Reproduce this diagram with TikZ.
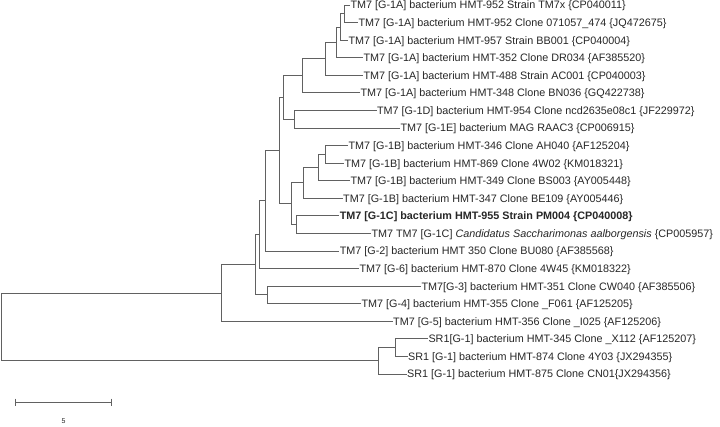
\documentclass[tikz,border=0pt]{standalone}
\usepackage{fontspec}
\setmainfont{Liberation Sans}
\begin{document}
\begin{tikzpicture}[x=1pt,y=-1pt,
  br/.style={draw=black!62, line width=0.9pt},
  leaf/.style={anchor=west, inner xsep=0.3pt, inner ysep=0pt, text height=7.8pt, text depth=0pt, font=\fontsize{10.8}{12}\selectfont, text=black!85}]
\useasboundingbox (0,0) rectangle (720,426);
% leaves
\node[leaf] (l1)  at (350,5.0)   {TM7 [G-1A] bacterium HMT-952 Strain TM7x \{CP040011\}};
\node[leaf] (l2)  at (358,22.6)  {TM7 [G-1A] bacterium HMT-952 Clone 071057\_474 \{JQ472675\}};
\node[leaf] (l3)  at (348,40.1)  {TM7 [G-1A] bacterium HMT-957 Strain BB001 \{CP040004\}};
\node[leaf] (l4)  at (363,57.7)  {TM7 [G-1A] bacterium HMT-352 Clone DR034 \{AF385520\}};
\node[leaf] (l5)  at (363,75.3)  {TM7 [G-1A] bacterium HMT-488 Strain AC001 \{CP040003\}};
\node[leaf] (l6)  at (360,92.9)  {TM7 [G-1A] bacterium HMT-348 Clone BN036 \{GQ422738\}};
\node[leaf] (l7)  at (376.5,110.4) {TM7 [G-1D] bacterium HMT-954 Clone ncd2635e08c1 \{JF229972\}};
\node[leaf] (l8)  at (400,128.0) {TM7 [G-1E] bacterium MAG RAAC3 \{CP006915\}};
\node[leaf] (l9)  at (348,145.6) {TM7 [G-1B] bacterium HMT-346 Clone AH040 \{AF125204\}};
\node[leaf] (l10) at (344,163.1) {TM7 [G-1B] bacterium HMT-869 Clone 4W02 \{KM018321\}};
\node[leaf] (l11) at (350,180.7) {TM7 [G-1B] bacterium HMT-349 Clone BS003 \{AY005448\}};
\node[leaf] (l12) at (342.7,198.3) {TM7 [G-1B] bacterium HMT-347 Clone BE109 \{AY005446\}};
\node[leaf] (l13) at (339.3,215.8) {\bfseries TM7 [G-1C] bacterium HMT-955 Strain PM004 \{CP040008\}};
\node[leaf] (l14) at (371,233.4) {TM7 TM7 [G-1C] \textit{Candidatus Saccharimonas aalborgensis} \{CP005957\}};
\node[leaf] (l15) at (339.3,251.0) {TM7 [G-2] bacterium HMT 350 Clone BU080 \{AF385568\}};
\node[leaf] (l16) at (359,268.5) {TM7 [G-6] bacterium HMT-870 Clone 4W45 \{KM018322\}};
\node[leaf] (l17) at (421,286.1) {TM7[G-3] bacterium HMT-351 Clone CW040 \{AF385506\}};
\node[leaf] (l18) at (361,303.7) {TM7 [G-4] bacterium HMT-355 Clone \_F061 \{AF125205\}};
\node[leaf] (l19) at (392.7,321.3) {TM7 [G-5] bacterium HMT-356 Clone \_I025 \{AF125206\}};
\node[leaf] (l20) at (428,338.8) {SR1[G-1] bacterium HMT-345 Clone \_X112 \{AF125207\}};
\node[leaf] (l21) at (407.7,356.4) {SR1 [G-1] bacterium HMT-874 Clone 4Y03 \{JX294355\}};
\node[leaf] (l22) at (406.7,374.0) {SR1 [G-1] bacterium HMT-875 Clone CN01\{JX294356\}};
% internal nodes
\coordinate (n12)   at (344,13.8);
\coordinate (n13)   at (340,27.0);
\coordinate (n14)   at (336,42.3);
\coordinate (n15)   at (325,58.8);
\coordinate (n16)   at (302.7,75.9);
\coordinate (n78)   at (294,119.2);
\coordinate (n18)   at (283.3,97.5);
\coordinate (n910)  at (325,154.4);
\coordinate (n911)  at (318.3,167.5);
\coordinate (n912)  at (303.3,182.9);
\coordinate (n1314) at (296.5,224.6);
\coordinate (n914)  at (291.7,203.8);
\coordinate (ng1)   at (279.3,150.6);
\coordinate (ng2)   at (265,200.8);
\coordinate (ng6)   at (259.3,234.7);
\coordinate (ng34)  at (267.7,294.9);
\coordinate (na)    at (255,264.8);
\coordinate (ntm7)  at (221,293.0);
\coordinate (nsri)  at (395,347.6);
\coordinate (nsr)   at (378,360.8);
\coordinate (root)  at (1.5,326.9);
% branches
\draw[br] (n12) |- (l1.west);  \draw[br] (n12) |- (l2.west);
\draw[br] (n13) |- (n12);      \draw[br] (n13) |- (l3.west);
\draw[br] (n14) |- (n13);      \draw[br] (n14) |- (l4.west);
\draw[br] (n15) |- (n14);      \draw[br] (n15) |- (l5.west);
\draw[br] (n16) |- (n15);      \draw[br] (n16) |- (l6.west);
\draw[br] (n78) |- (l7.west);  \draw[br] (n78) |- (l8.west);
\draw[br] (n18) |- (n16);      \draw[br] (n18) |- (n78);
\draw[br] (n910) |- (l9.west); \draw[br] (n910) |- (l10.west);
\draw[br] (n911) |- (n910);    \draw[br] (n911) |- (l11.west);
\draw[br] (n912) |- (n911);    \draw[br] (n912) |- (l12.west);
\draw[br] (n1314) |- (l13.west); \draw[br] (n1314) |- (l14.west);
\draw[br] (n914) |- (n912);    \draw[br] (n914) |- (n1314);
\draw[br] (ng1) |- (n18);      \draw[br] (ng1) |- (n914);
\draw[br] (ng2) |- (ng1);      \draw[br] (ng2) |- (l15.west);
\draw[br] (ng6) |- (ng2);      \draw[br] (ng6) |- (l16.west);
\draw[br] (ng34) |- (l17.west); \draw[br] (ng34) |- (l18.west);
\draw[br] (na) |- (ng6);       \draw[br] (na) |- (ng34);
\draw[br] (ntm7) |- (na);      \draw[br] (ntm7) |- (l19.west);
\draw[br] (nsri) |- (l20.west); \draw[br] (nsri) |- (l21.west);
\draw[br] (nsr) |- (nsri);     \draw[br] (nsr) |- (l22.west);
\draw[br] (root) |- (ntm7);    \draw[br] (root) |- (nsr);
% scale bar
\coordinate (sb1) at (15,402.3);
\coordinate (sb2) at (112.3,402.3);
\draw[br, |-|] (sb1) -- (sb2);
\node[font=\fontsize{7}{8}\selectfont, text=black!85] (sbl) at (63.5,421.5) {5};
\end{tikzpicture}
\end{document}
